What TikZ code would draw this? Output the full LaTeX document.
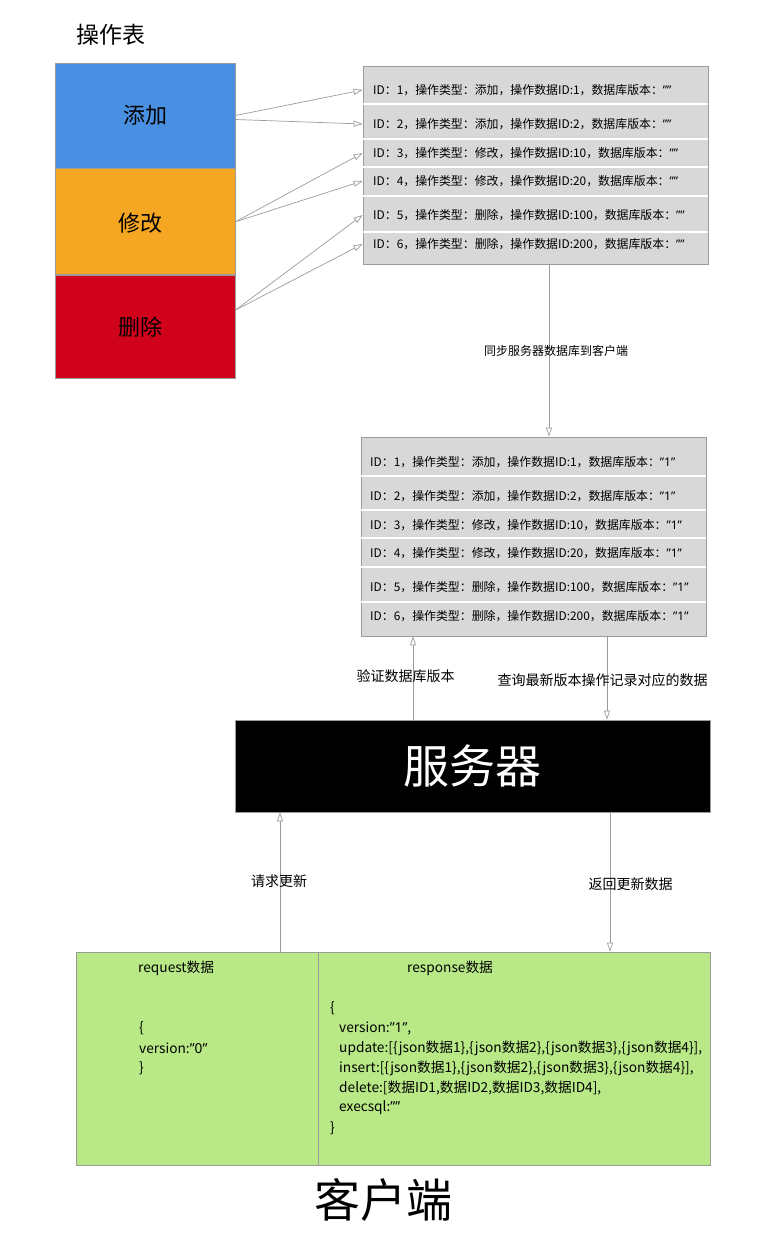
\documentclass[tikz,border=0pt]{standalone}
\usepackage{fontspec}
\setmainfont{Noto Sans CJK SC}
\newfontfamily\quotefont{Noto Sans}
\newcommand\qt[1]{{\quotefont #1}}
\usetikzlibrary{positioning,arrows.meta}

\definecolor{addblue}{HTML}{4A90E2}
\definecolor{modorange}{HTML}{F5A623}
\definecolor{delred}{HTML}{D0021B}
\definecolor{rowgray}{HTML}{D8D8D8}
\definecolor{linegray}{HTML}{9B9B9B}
\definecolor{clientgreen}{HTML}{B8E986}

\begin{document}
\begin{tikzpicture}[x=1pt,y=-1pt,
  opbox/.style={draw=linegray, line width=0.8pt, minimum width=180pt, inner sep=0pt, font=\fontsize{22}{26}\selectfont},
  table/.style={draw=linegray, fill=rowgray, line width=0.8pt, minimum width=345pt, inner sep=0pt},
  rowtext/.style={anchor=west, inner sep=0pt, font=\fontsize{11.9}{13}\selectfont},
  sep/.style={white, line width=1.5pt},
  arr/.style={draw=linegray, line width=0.7pt, -{Triangle[open,length=9pt,width=6pt]}},
  lbl/.style={inner sep=1pt, font=\fontsize{14}{16}\selectfont},
  code/.style={anchor=west, inner sep=0pt, font=\fontsize{13.7}{15}\selectfont},
  big/.style={inner sep=0pt, font=\fontsize{46}{52}\selectfont}]

\useasboundingbox (0,0) rectangle (764,1250);

% operation table
\node[anchor=west, inner sep=0pt, font=\fontsize{23}{27}\selectfont] (title) at (76,35) {操作表};
\node[opbox, fill=addblue, minimum height=105pt] (add) at (145,115.5) {添加};
\node[opbox, fill=modorange, minimum height=106pt, below=0pt of add, text depth=0pt] (mod) {修改\hspace*{10pt}};
\node[opbox, fill=delred, minimum height=103pt, below=0pt of mod] (del) {删除\hspace*{10pt}};

% client side records
\node[table, minimum height=198pt] (tabA) at (535.5,165) {};
\foreach \y in {104,139,167,196,232}
  \draw[sep] (tabA.west |- 0,\y) -- (tabA.east |- 0,\y);
\foreach \i/\y/\op/\d in {1/90/添加/1, 2/124/添加/2, 3/153/修改/10, 4/181/修改/20, 5/215/删除/100, 6/244/删除/200}
  \node[rowtext] (a\i) at (373,\y) {ID：\i，操作类型：\op，操作数据ID:\d，数据库版本：\qt{””}};

% server side records
\node[table, minimum height=199pt] (tabB) at (533.5,536.5) {};
\foreach \y in {476,510,538,567,602}
  \draw[sep] (tabB.west |- 0,\y) -- (tabB.east |- 0,\y);
\foreach \i/\y/\op/\d in {1/462/添加/1, 2/496/添加/2, 3/525/修改/10, 4/553/修改/20, 5/587/删除/100, 6/616/删除/200}
  \node[rowtext] (b\i) at (370,\y) {ID：\i，操作类型：\op，操作数据ID:\d，数据库版本：\qt{”1”}};

% server
\node[draw=linegray, fill=black, text=white, line width=0.8pt, minimum width=475pt, minimum height=92pt, big] (server) at (472.5,766) {服务器};

% client
\node[draw=linegray, fill=clientgreen, line width=0.8pt, minimum width=634pt, minimum height=213pt] (client) at (393,1058.5) {};
\coordinate (divx) at (318,0);
\draw[linegray, line width=0.8pt] (client.north -| divx) -- (client.south -| divx);
\node[code] (req) at (138,968) {request数据};
\node[code] (req1) at (139,1028) {\{};
\node[code] (req2) at (139,1048) {version:\qt{”0”}};
\node[code] (req3) at (139,1068) {\}};
\node[code] (resp) at (407,968) {response数据};
\node[code] (r0) at (330,1008) {\{};
\node[code] (r1) at (339,1028) {version:\qt{”1”},};
\node[code] (r2) at (339,1048) {update:[\{json数据1\},\{json数据2\},\{json数据3\},\{json数据4\}],};
\node[code] (r3) at (339,1068) {insert:[\{json数据1\},\{json数据2\},\{json数据3\},\{json数据4\}],};
\node[code] (r4) at (339,1088) {delete:[数据ID1,数据ID2,数据ID3,数据ID4],};
\node[code] (r5) at (339,1108) {execsql:\qt{””}};
\node[code] (r6) at (330,1128) {\}};
\node[big] (clientname) at (383,1200) {客户端};

% connectors
\draw[arr] (add.east) -- (tabA.west |- a1);
\draw[arr] ([yshift=-4pt]add.east) -- (tabA.west |- a2);
\draw[arr] (mod.east) -- (tabA.west |- a3);
\draw[arr] (mod.east) -- (tabA.west |- a4);
\draw[arr] ([yshift=17pt]del.east) -- (tabA.west |- a5);
\draw[arr] ([yshift=17pt]del.east) -- (tabA.west |- a6);

\coordinate (syncx) at (549,0);
\coordinate (upx) at (413,0);
\coordinate (downx) at (607,0);
\coordinate (askx) at (280,0);
\coordinate (backx) at (610,0);
\draw[arr] (tabA.south -| syncx) -- (tabB.north -| syncx)
  node[lbl, midway, xshift=7pt, font=\fontsize{12}{14}\selectfont] {同步服务器数据库到客户端};
\draw[arr] (server.north -| upx) -- (tabB.south -| upx)
  node[lbl, midway, xshift=-7.5pt, yshift=2pt] {验证数据库版本};
\draw[arr] (tabB.south -| downx) -- (server.north -| downx)
  node[lbl, midway, xshift=-4.5pt, yshift=-2pt] {查询最新版本操作记录对应的数据};
\draw[arr] (client.north -| askx) -- (server.south -| askx)
  node[lbl, midway, xshift=-1pt, yshift=1pt] {请求更新};
\draw[arr] (server.south -| backx) -- (client.north -| backx)
  node[lbl, midway, xshift=20.5pt, yshift=-2pt] {返回更新数据};
\end{tikzpicture}
\end{document}
